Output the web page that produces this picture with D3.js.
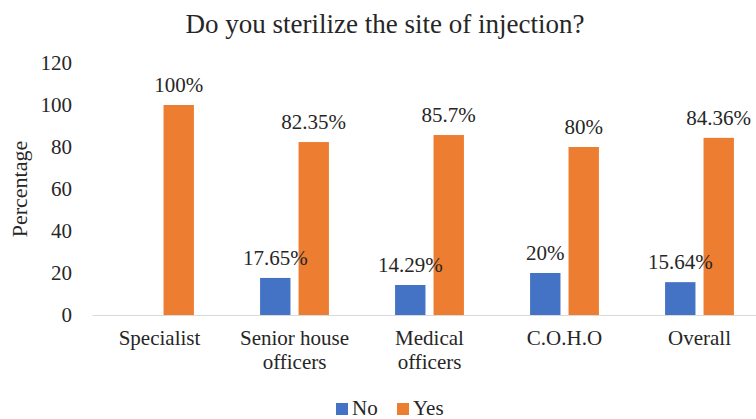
<!DOCTYPE html>
<html>
<head>
<meta charset="utf-8">
<script src="https://cdn.jsdelivr.net/npm/d3@7"></script>
<style>
  body { margin: 0; background: #fff; }
  svg text { font-family: 'Liberation Serif', Tinos, 'Times New Roman', 'DejaVu Serif', serif !important; fill: #262626; }
</style>
</head>
<body>
<div id="main"></div>
<script>
// DATA
const categories = ["Specialist", "Senior house\nofficers", "Medical\nofficers", "C.O.H.O", "Overall"]
const series = ["No", "Yes"]
const noValues = [null, 17.65, 14.29, 20, 15.64]
const yesValues = [100, 82.35, 85.7, 80, 84.36]
const noLabels = ["", "17.65%", "14.29%", "20%", "15.64%"]
const yesLabels = ["100%", "82.35%", "85.7%", "80%", "84.36%"]
const yTicks = [0, 20, 40, 60, 80, 100, 120]

// SETUP
const width = 756
const height = 419
const blue = '#4472C4'
const orange = '#ED7D31'
const serif = "'Liberation Serif', Tinos, 'Times New Roman', 'DejaVu Serif', serif"

let x0 = d3.scaleBand()
    .domain(categories)
    .range([92, 767])

let x1 = d3.scaleBand()
    .domain(series)
    .range([0, x0.bandwidth()])
    .paddingInner(0.21)
    .paddingOuter(0.86)

let y = d3.scaleLinear()
    .domain([0, 120])
    .range([315, 63])

let color = d3.scaleOrdinal().domain(series).range([blue, orange])

let svg = d3.select("#main").append("svg")
    .attr("width", width)
    .attr("height", height)
    .attr("font-family", serif)

// title
svg.append("text")
    .attr("x", 385)
    .attr("y", 33)
    .attr("text-anchor", "middle")
    .style("font-size", "27px")
    .text("Do you sterilize the site of injection?")

// y axis
let yAxis = svg.append("g")
    .attr("transform", "translate(80,0)")
    .call(d3.axisLeft(y).tickValues(yTicks).tickSize(0).tickPadding(8))
    .attr("font-family", serif)
yAxis.select(".domain").remove()
yAxis.selectAll("text")
    .style("font-size", "21px")
    .attr("fill", "#262626")

svg.append("text")
    .attr("transform", "translate(27,189) rotate(-90)")
    .attr("text-anchor", "middle")
    .style("font-size", "22px")
    .text("Percentage")

// x axis
let xAxis = svg.append("g")
    .attr("transform", "translate(0," + y(0) + ")")
    .call(d3.axisBottom(x0).tickSize(0).tickFormat(""))
xAxis.select(".domain").attr("stroke", "#d9d9d9").attr("stroke-width", 1)

// category labels, one text per line
svg.append("g").selectAll("g")
    .data(categories)
    .join("g")
    .each(function(d) {
        d.split("\n").forEach((line, i) => {
            d3.select(this).append("text")
                .attr("x", x0(d) + x0.bandwidth() / 2)
                .attr("y", 345 + i * 24)
                .attr("text-anchor", "middle")
                .style("font-size", "21px")
                .text(line)
        })
    })

// bars
let rows = categories.map((c, i) => ({
    cat: c,
    vals: [
        {key: "No", value: noValues[i], label: noLabels[i]},
        {key: "Yes", value: yesValues[i], label: yesLabels[i]}
    ]
}))

let groups = svg.append("g").selectAll("g")
    .data(rows)
    .join("g")
    .attr("transform", d => "translate(" + x0(d.cat) + ",0)")

groups.selectAll("rect")
    .data(d => d.vals.filter(v => v.value != null))
    .join("rect")
    .attr("x", d => x1(d.key))
    .attr("width", x1.bandwidth())
    .attr("y", d => y(d.value))
    .attr("height", d => y(0) - y(d.value))
    .attr("fill", d => color(d.key))

groups.selectAll("text.label")
    .data(d => d.vals.filter(v => v.value != null))
    .join("text")
    .attr("class", "label")
    .attr("x", d => x1(d.key) + x1.bandwidth() / 2)
    .attr("y", d => y(d.value) - 13)
    .attr("text-anchor", "middle")
    .style("font-size", "21px")
    .text(d => d.label)

// legend
let legend = svg.append("g").selectAll("g")
    .data(series)
    .join("g")
    .attr("transform", (d, i) => "translate(" + (336 + i * 61) + ",403)")
legend.append("rect")
    .attr("width", 12)
    .attr("height", 12)
    .attr("fill", d => color(d))
legend.append("text")
    .attr("x", 16)
    .attr("y", 12)
    .style("font-size", "21px")
    .text(d => d)
</script>
</body>
</html>
